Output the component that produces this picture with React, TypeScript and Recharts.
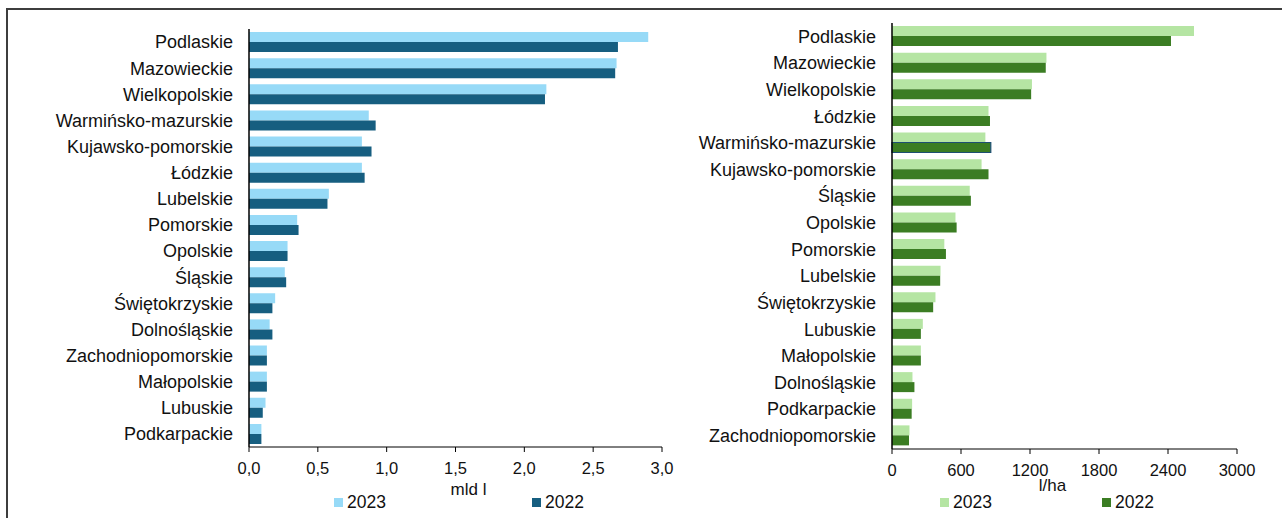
import { BarChart, Bar, XAxis, YAxis, Legend, Label, Cell } from 'recharts';

// Zużycie wody ogółem (mld l)
const volumeRegions = [
  'Podlaskie',
  'Mazowieckie',
  'Wielkopolskie',
  'Warmińsko-mazurskie',
  'Kujawsko-pomorskie',
  'Łódzkie',
  'Lubelskie',
  'Pomorskie',
  'Opolskie',
  'Śląskie',
  'Świętokrzyskie',
  'Dolnośląskie',
  'Zachodniopomorskie',
  'Małopolskie',
  'Lubuskie',
  'Podkarpackie',
];
const volume2023 = [2.9, 2.67, 2.16, 0.87, 0.82, 0.82, 0.58, 0.35, 0.28, 0.26, 0.19, 0.15, 0.13, 0.13, 0.12, 0.09];
const volume2022 = [2.68, 2.66, 2.15, 0.92, 0.89, 0.84, 0.57, 0.36, 0.28, 0.27, 0.17, 0.17, 0.13, 0.13, 0.1, 0.09];
const volumeTicks = [0, 0.5, 1, 1.5, 2, 2.5, 3];

// Zużycie na hektar (l/ha)
const yieldRegions = [
  'Podlaskie',
  'Mazowieckie',
  'Wielkopolskie',
  'Łódzkie',
  'Warmińsko-mazurskie',
  'Kujawsko-pomorskie',
  'Śląskie',
  'Opolskie',
  'Pomorskie',
  'Lubelskie',
  'Świętokrzyskie',
  'Lubuskie',
  'Małopolskie',
  'Dolnośląskie',
  'Podkarpackie',
  'Zachodniopomorskie',
];
const yield2023 = [2626, 1343, 1217, 839, 812, 779, 676, 552, 455, 422, 378, 268, 251, 178, 175, 152];
const yield2022 = [2426, 1337, 1210, 852, 859, 839, 686, 562, 469, 419, 358, 251, 251, 195, 171, 148];
const yieldTicks = [0, 600, 1200, 1800, 2400, 3000];

const FONT = '"Liberation Sans", Arial, sans-serif';
const INK = '#111';

type LegendItem = { value: string; color: string };

function YearLegend({ payload, start, gap }: { payload?: LegendItem[]; start: number; gap: number }) {
  // newer year first
  const items = [...(payload || [])].sort((a, b) => String(b.value).localeCompare(String(a.value)));
  return (
    <div style={{ position: 'relative', height: 20, fontFamily: FONT }}>
      {items.map((item, i) => (
        <div
          key={item.value}
          style={{
            position: 'absolute',
            left: start + i * gap,
            top: 0,
            height: 20,
            display: 'flex',
            alignItems: 'center',
            whiteSpace: 'nowrap',
          }}
        >
          <span style={{ display: 'inline-block', width: 9, height: 9, background: item.color, marginRight: 4 }} />
          <span style={{ fontSize: 17.5, color: INK }}>{item.value}</span>
        </div>
      ))}
    </div>
  );
}

type PanelProps = {
  regions: string[];
  a2023: number[];
  a2022: number[];
  ticks: number[];
  format: (v: number) => string;
  unit: string;
  light: string;
  dark: string;
  width: number;
  margin: { top: number; right: number; bottom: number; left: number };
  yAxisWidth: number;
  titleShift: number;
  titleDy: number;
  legendStart: number;
  legendGap: number;
  outlined?: string;
};

function Panel(p: PanelProps) {
  const rows = p.regions.map((name, i) => ({ name, y2023: p.a2023[i], y2022: p.a2022[i] }));
  return (
    <BarChart
      width={p.width}
      height={518}
      data={rows}
      layout="vertical"
      margin={p.margin}
      barGap={0}
      style={{ fontFamily: FONT }}
    >
      <XAxis
        type="number"
        domain={[p.ticks[0], p.ticks[p.ticks.length - 1]]}
        ticks={p.ticks}
        tickFormatter={p.format}
        height={30}
        tickSize={5}
        tickMargin={10}
        axisLine={{ stroke: '#000' }}
        tickLine={{ stroke: '#000' }}
        tick={{ fontSize: 16.5, fill: INK }}
      >
        <Label
          value={p.unit}
          content={(props: any) => {
            const vb = props.viewBox || { x: 0, y: 0, width: 0 };
            return (
              <text
                x={vb.x + vb.width / 2 + p.titleShift}
                y={vb.y + p.titleDy}
                textAnchor="middle"
                fontSize={17}
                fill={INK}
              >
                {p.unit}
              </text>
            );
          }}
        />
      </XAxis>
      <YAxis
        type="category"
        dataKey="name"
        width={p.yAxisWidth}
        interval={0}
        tickLine={false}
        tickSize={6}
        tickMargin={10}
        axisLine={{ stroke: '#000', strokeWidth: 1.5 }}
        tick={{ fontSize: 18, fill: INK }}
      />
      <Legend
        layout="horizontal"
        verticalAlign="middle"
        align="center"
        wrapperStyle={{ top: 492, left: 0, width: p.width }}
        content={(props: any) => <YearLegend payload={props.payload} start={p.legendStart} gap={p.legendGap} />}
      />
      <Bar dataKey="y2023" name="2023" fill={p.light} barSize={10} isAnimationActive={false} />
      <Bar dataKey="y2022" name="2022" fill={p.dark} barSize={10} isAnimationActive={false}>
        {rows.map((r) => (
          <Cell
            key={r.name}
            fill={p.dark}
            stroke={r.name === p.outlined ? '#1d4f73' : 'none'}
            strokeWidth={1.2}
          />
        ))}
      </Bar>
    </BarChart>
  );
}

const commaOneDecimal = (v: number) => v.toFixed(1).replace('.', ',');
const plain = (v: number) => String(v);

export default function App() {
  return (
    <div style={{ position: 'absolute', left: 0, top: 0, width: 1282, height: 518, background: '#fff', overflow: 'hidden' }}>
      <div
        style={{
          position: 'absolute',
          left: 6,
          top: 8,
          width: 1300,
          height: 530,
          borderTop: '2px solid #3d3d3d',
          borderLeft: '2px solid #3d3d3d',
        }}
      />
      <div style={{ position: 'absolute', left: 0, top: 0 }}>
        <Panel
          regions={volumeRegions}
          a2023={volume2023}
          a2022={volume2022}
          ticks={volumeTicks}
          format={commaOneDecimal}
          unit="mld l"
          light="#97daf7"
          dark="#165e80"
          width={680}
          margin={{ top: 29, right: 18, bottom: 41, left: 9 }}
          yAxisWidth={240}
          titleShift={13}
          titleDy={48}
          legendStart={334}
          legendGap={198}
        />
      </div>
      <div style={{ position: 'absolute', left: 680, top: 0 }}>
        <Panel
          regions={yieldRegions}
          a2023={yield2023}
          a2022={yield2022}
          ticks={yieldTicks}
          format={plain}
          unit="l/ha"
          light="#b5e5a3"
          dark="#3b7d23"
          width={602}
          margin={{ top: 23, right: 45, bottom: 39, left: 12 }}
          yAxisWidth={200}
          titleShift={-12}
          titleDy={42}
          legendStart={260}
          legendGap={162}
          outlined="Warmińsko-mazurskie"
        />
      </div>
    </div>
  );
}
